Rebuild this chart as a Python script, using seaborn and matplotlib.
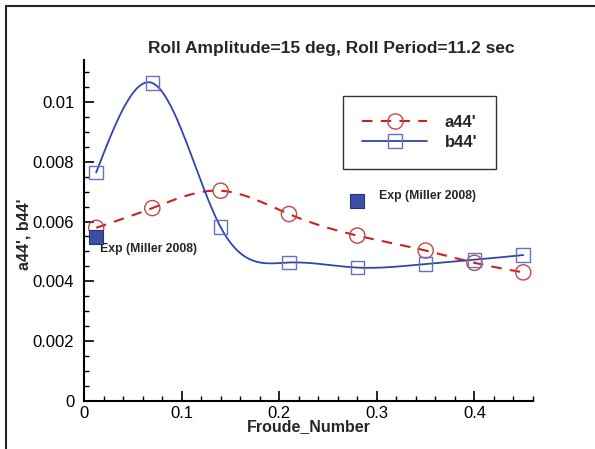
import numpy as np
import pandas as pd
import matplotlib
matplotlib.use("Agg")
import matplotlib.pyplot as plt
import seaborn as sns
from matplotlib.lines import Line2D
from matplotlib.ticker import MultipleLocator, FuncFormatter

# values
froude = [0.0125, 0.07, 0.14, 0.21, 0.28, 0.35, 0.40, 0.45]
a44 = [0.00579, 0.00645, 0.00703, 0.00625, 0.00553, 0.00503, 0.00462, 0.00430]
b44 = [0.00764, 0.01063, 0.00581, 0.00463, 0.00446, 0.00458, 0.00472, 0.00488]
exp_froude = [0.0125, 0.28]
exp_value = [0.00547, 0.00670]
exp_label = "Exp (Miller 2008)"

title = "Roll Amplitude=15 deg, Roll Period=11.2 sec"


def smooth(x, y, n=300):
    # natural cubic spline, only used to draw the curve through the points
    x = np.asarray(x, float)
    y = np.asarray(y, float)
    h = np.diff(x)
    m = len(x)
    A = np.zeros((m, m))
    r = np.zeros(m)
    A[0, 0] = A[-1, -1] = 1
    for i in range(1, m - 1):
        A[i, i - 1] = h[i - 1]
        A[i, i] = 2 * (h[i - 1] + h[i])
        A[i, i + 1] = h[i]
        r[i] = 6 * ((y[i + 1] - y[i]) / h[i] - (y[i] - y[i - 1]) / h[i - 1])
    M = np.linalg.solve(A, r)
    xs = np.linspace(x[0], x[-1], n)
    k = np.clip(np.searchsorted(x, xs) - 1, 0, m - 2)
    t0 = x[k + 1] - xs
    t1 = xs - x[k]
    hk = h[k]
    ys = (M[k] * t0**3 + M[k + 1] * t1**3) / (6 * hk) \
        + (y[k] / hk - M[k] * hk / 6) * t0 + (y[k + 1] / hk - M[k + 1] * hk / 6) * t1
    return pd.DataFrame({"x": xs, "y": ys})


sns.set_style("white")
plt.rcParams["font.family"] = ["Liberation Sans", "DejaVu Sans"]

red_line = "#cc2020"
red_mark = "#c04848"
blue_line = "#3344aa"
blue_mark = "#6670c4"

fig = plt.figure(figsize=(5.95, 4.49), dpi=100)
ax = fig.add_axes([84 / 595, 1 - 401 / 449, 449 / 595, 341 / 449])

pts = pd.DataFrame({"froude": froude, "a44": a44, "b44": b44})

sa = smooth(froude, a44)
sb = smooth(froude, b44)
sns.lineplot(data=sa, x="x", y="y", ax=ax, color=red_line, lw=1.5, sort=False,
             linestyle=(0, (5, 4)))
sns.lineplot(data=sb, x="x", y="y", ax=ax, color=blue_line, lw=1.3, sort=False)

sns.scatterplot(data=pts, x="froude", y="a44", ax=ax, marker="o", s=120,
                facecolor="none", edgecolor=red_mark, linewidth=1.0, zorder=3)
sns.scatterplot(data=pts, x="froude", y="b44", ax=ax, marker="s", s=95,
                facecolor="none", edgecolor=blue_mark, linewidth=1.0, zorder=3)
sns.scatterplot(x=exp_froude, y=exp_value, ax=ax, marker="s", s=95,
                color="#3a50a8", edgecolor="#2a3470", linewidth=0.8, zorder=4)

offsets = [(2.4, -8.4), (15.3, 3.6)]
for xv, yv, off in zip(exp_froude, exp_value, offsets):
    ax.annotate(exp_label, (xv, yv), xytext=off, textcoords="offset points",
                fontsize=8.8, fontweight="bold", va="center", ha="left")

ax.set_xlim(0, 0.46)
ax.set_ylim(0, 0.0114)
ax.xaxis.set_major_locator(MultipleLocator(0.1))
ax.xaxis.set_minor_locator(MultipleLocator(0.02))
ax.yaxis.set_major_locator(MultipleLocator(0.002))
ax.yaxis.set_minor_locator(MultipleLocator(0.0005))
fmt = FuncFormatter(lambda v, p: f"{round(v, 6):g}")
ax.xaxis.set_major_formatter(fmt)
ax.yaxis.set_major_formatter(fmt)

for s in ["top", "right"]:
    ax.spines[s].set_visible(False)
for s in ["left", "bottom"]:
    ax.spines[s].set_color("black")
    ax.spines[s].set_linewidth(1.5)

ax.tick_params(which="both", direction="in", colors="black", width=1.2,
               left=True, bottom=True, top=False, right=False, labelsize=12)
ax.tick_params(which="major", length=7)
ax.tick_params(which="minor", length=3.5, width=1.0)
ax.tick_params(axis="y", pad=7)
ax.tick_params(axis="x", pad=3.5)

ax.set_xlabel("Froude_Number", fontsize=11.5, fontweight="bold", labelpad=-1)
ax.set_ylabel("a44', b44'", fontsize=11.5, fontweight="bold")
ax.yaxis.set_label_coords(-0.118, 0.49)

ax.set_title(title, fontsize=12.5, fontweight="bold", pad=5, x=0.551)

handles = [
    Line2D([], [], color=red_line, lw=1.5, linestyle=(0, (5, 4)), marker="o",
           markersize=11, markerfacecolor="none", markeredgecolor=red_mark, markeredgewidth=1.0),
    Line2D([], [], color=blue_line, lw=1.3, marker="s", markersize=9.5,
           markerfacecolor="none", markeredgecolor=blue_mark, markeredgewidth=1.0),
]
leg = ax.legend(handles, ["a44'", "b44'"], loc="upper left",
                bbox_to_anchor=(343 / 595, 1 - 96 / 449), bbox_transform=fig.transFigure,
                frameon=True, fancybox=False, borderpad=1.15, handlelength=3.9,
                handletextpad=1.05, labelspacing=0.3, borderaxespad=0,
                prop={"weight": "bold", "size": 12})
leg.get_frame().set_edgecolor("black")
leg.get_frame().set_linewidth(1.0)

# frame of the original screenshot (left and top edges)
fig.add_artist(Line2D([6 / 595, 6 / 595], [0, 1 - 6 / 449], color="#222222", lw=1.5))
fig.add_artist(Line2D([6 / 595, 1], [1 - 6 / 449, 1 - 6 / 449], color="#222222", lw=1.5))

fig.savefig("out.png", dpi=100)
